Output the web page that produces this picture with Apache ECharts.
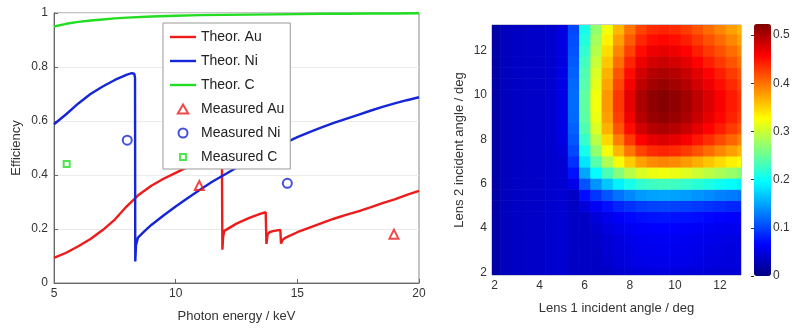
<!DOCTYPE html>
<html><head><meta charset="utf-8">
<script src="https://cdn.jsdelivr.net/npm/echarts@6/dist/echarts.min.js"></script>
<style>html,body{margin:0;padding:0;background:#fff}#c{width:796px;height:328px}</style>
</head><body><div id="c"></div>
<script>
// ---------- left panel data ----------
const energyTicks = [5, 10, 15, 20];
const effTicks = [0, 0.2, 0.4, 0.6, 0.8, 1];

const auEnergy = [5.0,5.5,6.0,6.5,7.0,7.5,8.0,8.5,9.0,9.5,10.0,10.5,11.0,11.5,11.7,11.85,11.9,11.92,11.95,12.0,12.5,13.0,13.5,13.7,13.73,13.78,13.85,14.0,14.3,14.33,14.4,14.5,15.0,15.5,16.0,16.5,17.0,17.5,18.0,18.5,19.0,19.5,20.0];
const auEff    = [0.093,0.112,0.136,0.163,0.196,0.235,0.285,0.328,0.360,0.386,0.408,0.430,0.451,0.471,0.480,0.481,0.470,0.123,0.170,0.193,0.220,0.240,0.257,0.262,0.145,0.180,0.188,0.192,0.197,0.146,0.160,0.167,0.188,0.205,0.222,0.238,0.252,0.265,0.280,0.296,0.310,0.326,0.341];

const niEnergy = [5.0,5.5,6.0,6.5,7.0,7.5,8.0,8.2,8.3,8.33,8.34,8.37,8.45,8.7,9.0,9.5,10.0,10.5,11.0,11.5,12.0,12.5,13.0,13.5,14.0,14.5,15.0,15.5,16.0,16.5,17.0,17.5,18.0,18.5,19.0,19.5,20.0];
const niEff    = [0.588,0.625,0.665,0.700,0.728,0.752,0.772,0.777,0.775,0.760,0.080,0.140,0.168,0.190,0.215,0.250,0.283,0.315,0.345,0.375,0.401,0.427,0.452,0.476,0.498,0.519,0.540,0.559,0.576,0.593,0.608,0.623,0.638,0.652,0.665,0.677,0.688];

const cEnergy = [5,5.5,6,6.5,7,7.5,8,9,10,11,12,13,14,15,16,17,18,19,20];
const cEff    = [0.950,0.960,0.967,0.972,0.976,0.980,0.983,0.987,0.990,0.992,0.993,0.994,0.995,0.996,0.997,0.997,0.998,0.998,0.999];

const measAuEnergy = [10.97, 18.97];
const measAuEff    = [0.361, 0.181];
const measNiEnergy = [8.01, 14.59];
const measNiEff    = [0.529, 0.369];
const measCEnergy  = [5.52];
const measCEff     = [0.441];

// ---------- right panel data ----------
const lens1Angles = [2,2.5,3,3.5,4,4.5,5,5.5,6,6.5,7,7.5,8,8.5,9,9.5,10,10.5,11,11.5,12,12.5,13];
const lens2Angles = [2,2.5,3,3.5,4,4.5,5,5.5,6,6.5,7,7.5,8,8.5,9,9.5,10,10.5,11,11.5,12,12.5,13];
const angleTicks = [2, 4, 6, 8, 10, 12];
const colorbarTicks = [0, 0.1, 0.2, 0.3, 0.4, 0.5];
// rows: lens 2 angle (bottom to top), columns: lens 1 angle (left to right)
const efficiencyRows = [
 [.02,.032,.035,.036,.037,.04,.042,.035,.035,.035,.036,.041,.045,.048,.049,.05,.049,.048,.047,.046,.044,.043,.041],
 [.02,.032,.035,.036,.037,.04,.042,.035,.035,.035,.04,.046,.05,.053,.055,.055,.055,.054,.052,.05,.049,.047,.046],
 [.02,.032,.035,.036,.037,.04,.042,.035,.035,.036,.042,.048,.052,.056,.057,.058,.057,.056,.054,.053,.051,.049,.048],
 [.02,.032,.035,.036,.037,.04,.042,.035,.035,.037,.044,.049,.054,.058,.059,.06,.059,.058,.056,.055,.053,.051,.049],
 [.02,.032,.035,.036,.037,.04,.042,.035,.035,.04,.048,.054,.059,.063,.064,.065,.064,.063,.061,.059,.058,.056,.054],
 [.02,.032,.035,.036,.037,.04,.042,.035,.035,.046,.055,.062,.068,.072,.074,.075,.074,.073,.071,.068,.066,.064,.062],
 [.02,.032,.035,.036,.037,.04,.042,.035,.047,.061,.073,.083,.09,.096,.099,.1,.099,.097,.094,.091,.088,.085,.083],
 [.02,.032,.035,.036,.037,.04,.042,.035,.071,.092,.109,.124,.135,.144,.148,.15,.148,.145,.141,.137,.132,.128,.124],
 [.02,.032,.035,.036,.037,.04,.042,.053,.108,.141,.168,.19,.208,.221,.228,.23,.228,.223,.217,.21,.203,.197,.19],
 [.02,.032,.035,.036,.037,.04,.042,.074,.151,.197,.234,.264,.289,.308,.317,.32,.317,.311,.301,.292,.283,.274,.264],
 [.02,.032,.035,.036,.037,.04,.042,.09,.184,.24,.285,.323,.353,.375,.386,.39,.386,.379,.368,.356,.345,.334,.323],
 [.02,.032,.035,.036,.037,.04,.047,.102,.207,.271,.321,.364,.398,.423,.436,.44,.436,.427,.415,.402,.389,.376,.364],
 [.02,.032,.035,.036,.037,.04,.05,.11,.224,.292,.347,.393,.429,.457,.47,.475,.47,.461,.447,.434,.42,.406,.393],
 [.02,.032,.035,.036,.037,.04,.053,.115,.236,.308,.366,.414,.452,.481,.495,.5,.495,.486,.471,.457,.443,.428,.414],
 [.02,.032,.035,.036,.037,.04,.053,.119,.243,.317,.376,.426,.465,.495,.51,.515,.51,.5,.485,.47,.455,.441,.426],
 [.02,.032,.035,.036,.037,.04,.053,.12,.245,.32,.38,.43,.47,.5,.515,.52,.515,.505,.49,.475,.46,.445,.43],
 [.02,.032,.035,.036,.037,.04,.053,.12,.245,.32,.38,.43,.47,.5,.515,.52,.515,.505,.49,.475,.46,.445,.43],
 [.02,.032,.035,.036,.037,.04,.053,.118,.24,.314,.373,.422,.461,.491,.505,.51,.505,.495,.481,.466,.451,.437,.422],
 [.02,.032,.035,.036,.037,.04,.053,.115,.236,.308,.366,.414,.452,.481,.495,.5,.495,.486,.471,.457,.443,.428,.414],
 [.02,.032,.035,.036,.037,.04,.05,.112,.229,.299,.355,.401,.439,.467,.48,.485,.48,.471,.457,.443,.429,.415,.401],
 [.02,.032,.035,.036,.037,.04,.05,.108,.221,.289,.344,.389,.425,.452,.466,.47,.466,.457,.443,.429,.416,.402,.389],
 [.02,.032,.035,.036,.037,.04,.05,.105,.214,.28,.333,.376,.411,.438,.451,.455,.451,.442,.429,.416,.403,.389,.376],
 [.02,.032,.035,.036,.037,.04,.05,.102,.207,.271,.321,.364,.398,.423,.436,.44,.436,.427,.415,.402,.389,.376,.364]
];
const heatStep = 0.5;

// ---------- build ----------
const zip = (a, b) => a.map((v, i) => [v, b[i]]);
const heatData = [];
efficiencyRows.forEach((row, j) => row.forEach((v, i) => heatData.push([lens1Angles[i], lens2Angles[j], v])));

const RED = '#ee1b1b', BLUE = '#1426d6', GREEN = '#22dd22';
const FONT = 'Liberation Sans';
const labelStyle = { color: '#333', fontSize: 12, fontFamily: FONT };
const nameStyle = { color: '#333', fontSize: 13, fontFamily: FONT };
const jet = ['#000080','#0000ff','#0080ff','#00ffff','#80ff80','#ffff00','#ff8000','#ff0000','#800000'];
const LINE_ICON = 'path://M0,0H26V2.4H0Z';
const SQUARE_ICON = 'path://M-1.6,-1.6M0,0H6V6H0ZM7.6,7.6';
const TRIANGLE_ICON = 'path://M0,8L4.6,0L9.2,8Z';

const chart = echarts.init(document.getElementById('c'), null, { renderer: 'canvas' });
chart.setOption({
  backgroundColor: '#fff',
  animation: false,
  textStyle: { fontFamily: FONT },
  grid: [
    { left: 54, top: 13, width: 365, height: 278, show: true, borderColor: '#888', borderWidth: 1, containLabel: false },
    { left: 492, top: 25, width: 249, height: 250, show: true, borderColor: '#99a', borderWidth: 1, containLabel: false },
    { left: 754, top: 24, width: 17, height: 252, show: false, containLabel: false }
  ],
  xAxis: [
    { gridIndex: 0, type: 'value', min: 5, max: 20, interval: 5,
      name: 'Photon energy / keV', nameLocation: 'middle', nameGap: 27, nameTextStyle: nameStyle,
      axisLine: { show: true, lineStyle: { color: '#666' } },
      axisTick: { show: true, inside: true, length: 4, lineStyle: { color: '#666' } },
      axisLabel: Object.assign({ margin: 5, customValues: energyTicks }, labelStyle),
      splitLine: { show: false } },
    { gridIndex: 1, type: 'value', min: 1.89, max: 12.93,
      name: 'Lens 1 incident angle / deg', nameLocation: 'middle', nameGap: 27, nameTextStyle: nameStyle,
      axisLine: { show: false },
      axisTick: { show: true, inside: true, length: 3, customValues: angleTicks, lineStyle: { color: '#555' } },
      axisLabel: Object.assign({ margin: 5, customValues: angleTicks }, labelStyle),
      splitLine: { show: false } },
    { gridIndex: 2, type: 'value', show: false, min: 0, max: 1 }
  ],
  yAxis: [
    { gridIndex: 0, type: 'value', min: 0, max: 1, interval: 0.2,
      name: 'Efficiency', nameLocation: 'middle', nameGap: 31, nameTextStyle: nameStyle,
      axisLine: { show: true, lineStyle: { color: '#666' } },
      axisTick: { show: true, inside: true, length: 4, lineStyle: { color: '#666' } },
      axisLabel: Object.assign({ margin: 6, customValues: effTicks }, labelStyle),
      splitLine: { show: true, lineStyle: { color: '#ebebeb', width: 1 } } },
    { gridIndex: 1, type: 'value', min: 1.88, max: 13.15,
      name: 'Lens 2 incident angle / deg', nameLocation: 'middle', nameGap: 26, nameTextStyle: nameStyle,
      axisLine: { show: false },
      axisTick: { show: true, inside: true, length: 3, customValues: angleTicks, lineStyle: { color: '#555' } },
      axisLabel: Object.assign({ margin: 5, customValues: angleTicks }, labelStyle),
      splitLine: { show: false } },
    { gridIndex: 2, type: 'value', min: 0, max: 0.523, position: 'right',
      axisLine: { show: false },
      axisTick: { show: true, inside: true, length: 3, customValues: colorbarTicks, lineStyle: { color: '#333' } },
      axisLabel: Object.assign({ margin: 2, customValues: colorbarTicks }, labelStyle),
      splitLine: { show: false } }
  ],
  legend: {
    orient: 'vertical', left: 163, top: 23, padding: [7, 6, 5, 7],
    itemWidth: 26, itemHeight: 9, itemGap: 10, symbolKeepAspect: true,
    backgroundColor: '#fff', borderColor: '#999', borderWidth: 1, borderRadius: 0,
    textStyle: { color: '#222', fontSize: 14, fontFamily: FONT },
    data: [
      { name: 'Theor. Au', icon: LINE_ICON, itemStyle: { color: RED, borderWidth: 0 } },
      { name: 'Theor. Ni', icon: LINE_ICON, itemStyle: { color: BLUE, borderWidth: 0 } },
      { name: 'Theor. C', icon: LINE_ICON, itemStyle: { color: GREEN, borderWidth: 0 } },
      { name: 'Measured Au', icon: TRIANGLE_ICON },
      { name: 'Measured Ni', icon: 'circle' },
      { name: 'Measured C', icon: SQUARE_ICON }
    ]
  },
  visualMap: {
    type: 'continuous', seriesIndex: 6, dimension: 2, min: 0, max: 0.523,
    inRange: { color: jet }, calculable: false, show: true,
    left: 754, top: 24, itemWidth: 17, itemHeight: 252, padding: 0, text: null,
    showLabel: false, hoverLink: false
  },
  series: [
    { name: 'Theor. Au', type: 'line', xAxisIndex: 0, yAxisIndex: 0, data: zip(auEnergy, auEff),
      symbol: 'none', showSymbol: false, lineStyle: { color: RED, width: 2.4 }, itemStyle: { color: RED }, z: 3 },
    { name: 'Theor. Ni', type: 'line', xAxisIndex: 0, yAxisIndex: 0, data: zip(niEnergy, niEff),
      symbol: 'none', showSymbol: false, lineStyle: { color: BLUE, width: 2.4 }, itemStyle: { color: BLUE }, z: 3 },
    { name: 'Theor. C', type: 'line', xAxisIndex: 0, yAxisIndex: 0, data: zip(cEnergy, cEff),
      symbol: 'none', showSymbol: false, lineStyle: { color: GREEN, width: 2.4 }, itemStyle: { color: GREEN }, z: 3 },
    { name: 'Measured Au', type: 'scatter', xAxisIndex: 0, yAxisIndex: 0, data: zip(measAuEnergy, measAuEff),
      symbol: 'triangle', symbolSize: 9, itemStyle: { color: 'rgba(0,0,0,0)', borderColor: RED, borderWidth: 2 }, z: 4 },
    { name: 'Measured Ni', type: 'scatter', xAxisIndex: 0, yAxisIndex: 0, data: zip(measNiEnergy, measNiEff),
      symbol: 'circle', symbolSize: 9, itemStyle: { color: 'rgba(0,0,0,0)', borderColor: BLUE, borderWidth: 2 }, z: 4 },
    { name: 'Measured C', type: 'scatter', xAxisIndex: 0, yAxisIndex: 0, data: zip(measCEnergy, measCEff),
      symbol: 'rect', symbolSize: 6, itemStyle: { color: 'rgba(0,0,0,0)', borderColor: GREEN, borderWidth: 2 }, z: 4 },
    { name: 'efficiency map', type: 'custom', xAxisIndex: 1, yAxisIndex: 1, coordinateSystem: 'cartesian2d',
      data: heatData, encode: { x: 0, y: 1 }, clip: true, silent: true,
      renderItem: function (params, api) {
        const x = api.value(0), y = api.value(1);
        const a = api.coord([x - heatStep / 2, y + heatStep / 2]);
        const b = api.coord([x + heatStep / 2, y - heatStep / 2]);
        const cs = params.coordSys;
        const r = echarts.graphic.clipRectByRect(
          { x: a[0], y: a[1], width: b[0] - a[0] + 0.6, height: b[1] - a[1] + 0.6 },
          { x: cs.x, y: cs.y, width: cs.width, height: cs.height });
        return r && { type: 'rect', shape: r, style: { fill: api.visual('color') } };
      } }
  ]
});
</script></body></html>
